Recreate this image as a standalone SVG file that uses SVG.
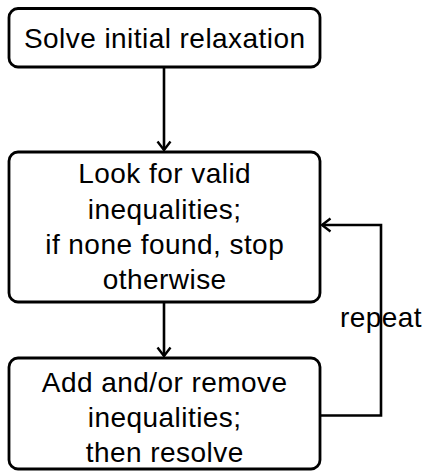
<svg xmlns="http://www.w3.org/2000/svg" width="426" height="472" viewBox="0 0 426 472">
<defs>
<style>
.box{fill:#fff;stroke:#000;stroke-width:2.8}
.t{font-family:"Liberation Sans",Arial,sans-serif;font-size:28px;letter-spacing:0.45px;fill:#000;text-anchor:middle}
.c{fill:none;stroke:#000;stroke-width:2.6}
</style>
<marker id="ah" viewBox="0 0 12 16" refX="10.5" refY="8" markerWidth="12" markerHeight="16" markerUnits="userSpaceOnUse" orient="auto">
<path d="M2,1.5 L10.5,8 L2,14.5" fill="none" stroke="#000" stroke-width="2.4"/>
</marker>
</defs>
<g id="connectors">
<line class="c" x1="164" y1="67" x2="164" y2="150" marker-end="url(#ah)"/>
<line class="c" x1="164" y1="302" x2="164" y2="356" marker-end="url(#ah)"/>
<polyline class="c" points="320,415.5 381,415.5 381,225 322,225" marker-end="url(#ah)"/>
</g>
<g id="n1">
<rect class="box" x="9" y="8.5" width="311" height="58.5" rx="9"/>
<text class="t" x="164.7" y="48">Solve initial relaxation</text>
</g>
<g id="n2">
<rect class="box" x="9" y="152" width="311" height="150" rx="9"/>
<text class="t" x="164.7" y="183">Look for valid</text>
<text class="t" x="164.7" y="218.5">inequalities;</text>
<text class="t" x="164.7" y="253.5">if none found, stop</text>
<text class="t" x="164.7" y="289">otherwise</text>
</g>
<g id="n3">
<rect class="box" x="9" y="358" width="311" height="111" rx="9"/>
<text class="t" x="164.7" y="392">Add and/or remove</text>
<text class="t" x="164.7" y="427">inequalities;</text>
<text class="t" x="164.7" y="461.5">then resolve</text>
</g>
<text class="t" x="381" y="327">repeat</text>
</svg>
